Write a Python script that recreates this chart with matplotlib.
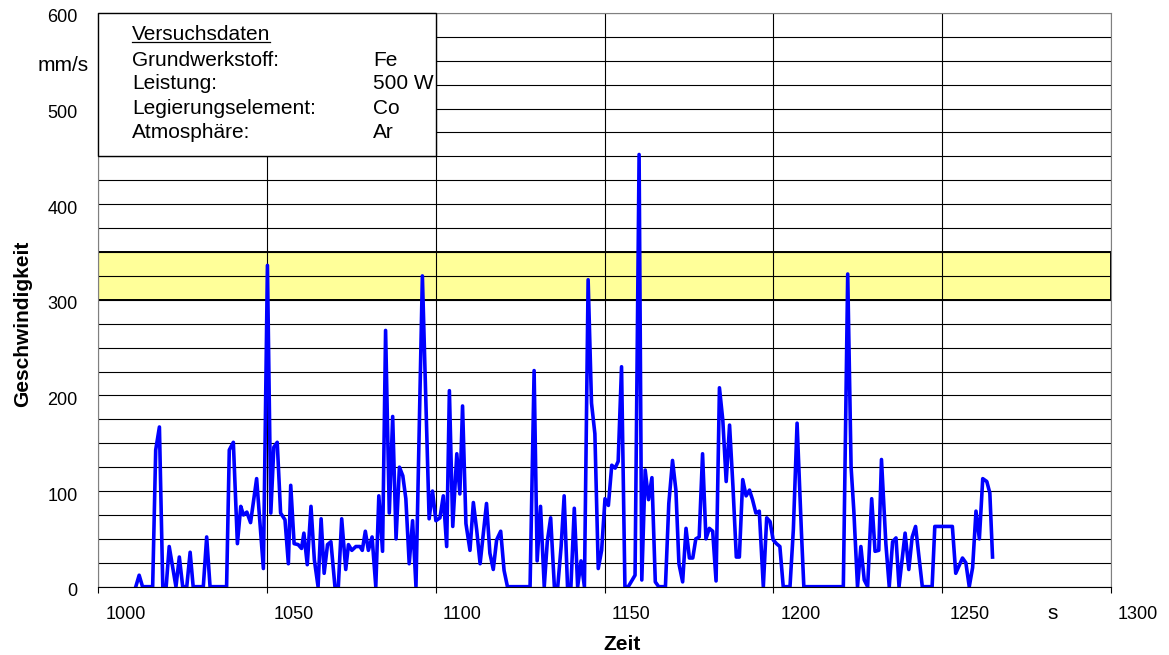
"""
    Geschwindigkeit ueber Zeit (Versuchsdaten Fe / Co)
"""

import matplotlib
matplotlib.use('Agg')
import matplotlib.pyplot as plt
from matplotlib.patches import Rectangle
from matplotlib.transforms import ScaledTranslation
from matplotlib.ticker import MultipleLocator

plt.rcParams['font.family'] = ['Liberation Sans', 'DejaVu Sans']

# data
zeit = [1011.1, 1012.1, 1013.1, 1016.1, 1017.0, 1018.1, 1019.1, 1020.1, 1021.0, 1023.0,
        1024.0, 1025.0, 1026.2, 1027.2, 1028.1, 1031.1, 1032.1, 1033.1, 1038.0, 1038.8,
        1040.0, 1041.2, 1042.2, 1043.0, 1044.0, 1045.1, 1046.9, 1048.9, 1050.1, 1051.1,
        1052.0, 1053.0, 1054.0, 1055.3, 1056.3, 1057.0, 1058.0, 1059.2, 1060.2, 1060.9,
        1061.9, 1063.0, 1064.0, 1065.1, 1066.0, 1066.9, 1067.9, 1068.9, 1070.1, 1071.1,
        1072.1, 1073.3, 1074.1, 1075.1, 1076.3, 1077.5, 1078.2, 1079.1, 1080.0, 1081.1,
        1082.2, 1083.1, 1084.2, 1085.1, 1086.2, 1087.2, 1088.2, 1089.2, 1090.2, 1091.1,
        1092.1, 1093.1, 1094.1, 1096.0, 1098.0, 1099.0, 1100.0, 1101.2, 1102.2, 1103.2,
        1104.0, 1105.0, 1106.2, 1107.1, 1107.9, 1108.9, 1110.1, 1111.1, 1112.1, 1113.1,
        1115.0, 1116.0, 1117.0, 1118.0, 1119.2, 1120.2, 1121.2, 1127.9, 1129.1, 1130.0,
        1131.0, 1132.1, 1133.0, 1134.0, 1135.1, 1136.1, 1137.1, 1138.0, 1139.0, 1140.0,
        1141.0, 1142.0, 1143.0, 1144.0, 1145.1, 1146.1, 1147.1, 1148.1, 1149.1, 1150.1,
        1151.1, 1152.1, 1153.1, 1154.0, 1155.0, 1156.0, 1157.0, 1159.0, 1160.2, 1161.0,
        1162.0, 1163.0, 1164.0, 1165.0, 1166.0, 1168.0, 1169.0, 1170.1, 1171.1, 1172.0,
        1173.1, 1174.1, 1175.1, 1176.1, 1177.0, 1178.0, 1179.0, 1180.0, 1181.0, 1182.0,
        1183.0, 1184.0, 1185.0, 1186.0, 1187.0, 1188.0, 1189.0, 1189.9, 1190.9, 1191.9,
        1192.9, 1193.8, 1194.8, 1195.8, 1197.0, 1198.0, 1199.0, 1199.9, 1200.9, 1201.9,
        1202.9, 1204.9, 1205.9, 1207.0, 1208.3, 1209.0, 1220.7, 1222.0, 1223.0, 1223.8,
        1224.9, 1225.9, 1226.9, 1227.9, 1229.1, 1230.1, 1231.2, 1232.0, 1233.3, 1234.3,
        1235.3, 1236.3, 1237.2, 1239.0, 1240.1, 1241.1, 1242.1, 1244.1, 1247.0, 1247.8,
        1253.0, 1254.0, 1256.0, 1257.0, 1258.0, 1259.0, 1260.0, 1261.0, 1262.0, 1263.2,
        1264.1, 1264.9]
geschw = [0, 12, 0, 0, 143, 167, 0, 0, 42, 0,
          31, 0, 0, 36, 0, 0, 52, 0, 0, 143,
          151, 45, 84, 75, 78, 67, 113, 19, 336, 77,
          146, 151, 77, 70, 24, 106, 45, 44, 40, 56,
          23, 84, 28, 0, 71, 14, 44, 47, 0, 0,
          71, 18, 44, 38, 42, 42, 38, 58, 38, 52,
          0, 95, 37, 268, 77, 178, 50, 125, 116, 92,
          24, 69, 0, 325, 71, 100, 69, 72, 95, 42,
          205, 63, 139, 97, 189, 66, 38, 88, 59, 24,
          87, 35, 18, 49, 58, 17, 0, 0, 226, 27,
          84, 0, 47, 72, 0, 0, 42, 95, 0, 0,
          82, 0, 27, 0, 321, 192, 160, 19, 38, 92,
          85, 127, 124, 131, 230, 0, 0, 12, 452, 7,
          122, 91, 114, 5, 0, 0, 87, 132, 101, 24,
          5, 61, 30, 30, 50, 52, 139, 50, 61, 58,
          6, 208, 174, 110, 169, 105, 31, 31, 112, 95,
          101, 91, 77, 79, 0, 72, 68, 49, 45, 42,
          0, 0, 60, 171, 56, 0, 0, 327, 125, 80,
          0, 42, 7, 0, 92, 37, 38, 133, 45, 0,
          47, 51, 0, 56, 18, 52, 63, 0, 0, 63,
          63, 14, 30, 25, 0, 20, 79, 50, 113, 110,
          98, 31]

band = [300, 350]
x_ticks = [1000, 1050, 1100, 1150, 1200, 1250, 1300]
y_ticks = [0, 100, 200, 300, 400, 500, 600]

info_title = 'Versuchsdaten'
info_keys = ['Grundwerkstoff:', 'Leistung:', 'Legierungselement:', 'Atmosphäre:']
info_vals = ['Fe', '500 W', 'Co', 'Ar']

fig = plt.figure(figsize=(11.69, 6.55), dpi=100)
ax = fig.add_axes([0.0841, 0.1043, 0.8663, 0.8759])

ax.set_xlim(1000, 1300)
ax.set_ylim(0, 600)
ax.set_xticks(x_ticks)
ax.set_yticks(y_ticks)
ax.yaxis.set_minor_locator(MultipleLocator(25))

ax.set_axisbelow(True)
ax.grid(True, which='major', color='black', lw=0.8)
ax.grid(True, which='minor', axis='y', color='black', lw=0.8)

# yellow target band
ax.axhspan(band[0], band[1], facecolor='#FFFF99', edgecolor='black', lw=1.4, zorder=0.3)

ax.plot(zeit, geschw, color='#0000FF', lw=2.6, zorder=2)

for s in ['left', 'right', 'top']:
    ax.spines[s].set_color('#808080')
ax.spines['bottom'].set_color('black')

ax.tick_params(axis='y', which='both', length=0, pad=15, labelsize=13)
ax.tick_params(axis='x', length=4, width=0.8, pad=10, labelsize=13, direction='out')

# x labels sit right of their tick, y labels a bit lower
offset = ScaledTranslation(7 / 100, 0, fig.dpi_scale_trans)
for lab in ax.get_xticklabels():
    lab.set_horizontalalignment('left')
    lab.set_transform(lab.get_transform() + offset)
yoff = ScaledTranslation(0, -3 / 100, fig.dpi_scale_trans)
for lab in ax.get_yticklabels():
    lab.set_transform(lab.get_transform() + yoff)

ax.text(-0.0346, 545, 'mm/s', transform=ax.get_yaxis_transform(),
        ha='center', va='center', fontsize=15)
ax.text(1282.8, -0.0470, 's', transform=ax.get_xaxis_transform(),
        ha='center', va='center', fontsize=15)

fig.text(622 / 1169, 1 - 644 / 655, 'Zeit', ha='center', va='center',
         fontsize=15, fontweight='bold')
fig.text(23 / 1169, 1 - 324 / 655, 'Geschwindigkeit', ha='center', va='center',
         rotation=90, fontsize=15, fontweight='bold')

# info box
ax.add_patch(Rectangle((1000, 450), 100, 150, facecolor='white', edgecolor='black',
                       lw=1, zorder=3, clip_on=False))
t = ax.text(1010, 577.5, info_title, ha='left', va='center', fontsize=15, zorder=4)
rows_y = [550.3, 526.3, 500.2, 475.0]
for k, v, yy in zip(info_keys, info_vals, rows_y):
    ax.text(1010, yy, k, ha='left', va='center', fontsize=15, zorder=4)
    ax.text(1081.4, yy, v, ha='left', va='center', fontsize=15, zorder=4)

# underline the title
fig.canvas.draw()
bb = t.get_window_extent()
inv = ax.transData.inverted()
(ux0, uy), (ux1, _) = inv.transform([(bb.x0, bb.y0 + 2), (bb.x1, bb.y0 + 2)])
ax.plot([ux0, ux1], [uy, uy], color='black', lw=0.9, zorder=4)

fig.savefig('out.png', dpi=100)
